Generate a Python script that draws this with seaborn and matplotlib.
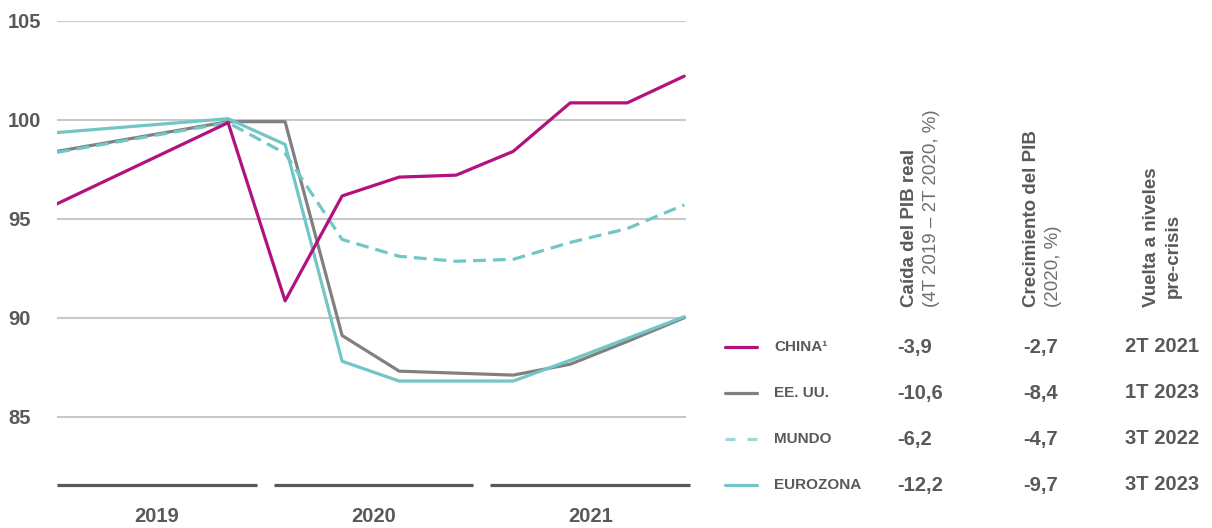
import numpy as np
import pandas as pd
import matplotlib
matplotlib.use('Agg')
import matplotlib.pyplot as plt
import matplotlib.transforms as mtransforms
import seaborn as sns

# ─────────────────────────────
#  DATA (índice, 4T 2019 = 100)
# ─────────────────────────────
quarters = ['1T 2019', '2T 2019', '3T 2019', '4T 2019',
            '1T 2020', '2T 2020', '3T 2020', '4T 2020',
            '1T 2021', '2T 2021', '3T 2021', '4T 2021']
nan = np.nan
china    = [95.75, nan, nan, 99.85, 90.85, 96.15, 97.1, 97.2, 98.4, 100.85, 100.85, 102.2]
eeuu     = [98.4,  nan, nan, 99.9,  99.9,  89.1,  87.3, 87.2, 87.1, 87.65,  88.8,   90.0]
mundo    = [98.35, nan, nan, 99.85, 98.3,  93.95, 93.1, 92.85, 92.95, 93.8,  94.5,   95.7]
eurozona = [99.35, nan, nan, 100.05, 98.75, 87.8, 86.8, 86.8, 86.8, 87.85,  88.95,  90.05]

years = ['2019', '2020', '2021']
yticks = [85, 90, 95, 100, 105]

# tabla de la derecha
series_names = ['CHINA¹', 'EE. UU.', 'MUNDO', 'EUROZONA']
caida  = ['-3,9', '-10,6', '-6,2', '-12,2']
crec   = ['-2,7', '-8,4', '-4,7', '-9,7']
vuelta = ['2T 2021', '1T 2023', '3T 2022', '3T 2023']

# ─────────────────────────────
#  STYLE
# ─────────────────────────────
sns.set_style('white')
plt.rcParams['font.family'] = ['Liberation Sans', 'DejaVu Sans']

TXT   = '#58595b'
TXT2  = '#6d6e71'
GRID  = '#c9c9c9'
colors = {'CHINA¹': '#b3127e', 'EE. UU.': '#808080',
          'MUNDO': '#72c6c6', 'EUROZONA': '#72c6c6'}
dashes = {'CHINA¹': '', 'EE. UU.': '', 'MUNDO': (4, 2.2), 'EUROZONA': ''}

df = pd.DataFrame({'q': quarters, 'idx': range(len(quarters)),
                   'CHINA¹': china, 'EE. UU.': eeuu,
                   'MUNDO': mundo, 'EUROZONA': eurozona})
long = df.melt(id_vars=['q', 'idx'], var_name='serie', value_name='valor').dropna()

W, H = 1212, 528
fig = plt.figure(figsize=(W / 100, H / 100), dpi=100)
ax = fig.add_axes([57 / W, (H - 485) / H, 629 / W, 464.3 / H])

sns.lineplot(data=long, x='idx', y='valor', hue='serie', style='serie',
             hue_order=['EE. UU.', 'MUNDO', 'EUROZONA', 'CHINA¹'],
             style_order=['EE. UU.', 'MUNDO', 'EUROZONA', 'CHINA¹'],
             palette=colors, dashes=dashes, linewidth=2.3,
             legend=False, ax=ax)

ymin = 81.55
ax.set_xlim(0, 11.03)
ax.set_ylim(ymin, 105)
ax.set_yticks(yticks)
ax.set_yticklabels([str(t) for t in yticks], fontweight='bold')
ax.set_xticks([])
ax.set_xlabel('')
ax.set_ylabel('')
ax.grid(axis='y', color=GRID, linewidth=1.5)
ax.set_axisbelow(True)
for s in ax.spines.values():
    s.set_visible(False)
ax.tick_params(axis='y', length=0, pad=35.3, labelsize=14.5, labelcolor=TXT)
for lab in ax.get_yticklabels():
    lab.set_horizontalalignment('left')

# barras de años
trans = mtransforms.blended_transform_factory(ax.transData, ax.transAxes)
for i, yr in enumerate(years):
    start = i * 3.8
    end = start + 3.5
    ax.plot([start, end], [ymin, ymin], color=TXT, lw=2.3,
            clip_on=False, solid_capstyle='butt')
    ax.text((start + end) / 2, -0.067, yr, transform=trans, ha='center',
            va='center', fontsize=14.5, fontweight='bold', color=TXT)

# ─────────────────────────────
#  TABLA / LEYENDA
# ─────────────────────────────
ov = fig.add_axes([0, 0, 1, 1])
ov.set_xlim(0, W)
ov.set_ylim(H, 0)
ov.axis('off')

row_y = [347, 393, 439, 485]
leg_dash = {'CHINA¹': (None, None), 'EE. UU.': (None, None),
            'MUNDO': (3.1, 3.8), 'EUROZONA': (None, None)}
for name, y, c1, c2, c3 in zip(series_names, row_y, caida, crec, vuelta):
    if name == 'MUNDO':
        ov.plot([725, 757], [y, y], color='#9bd8d8', lw=2.3,
                linestyle=(0, leg_dash[name]))
    else:
        ov.plot([725, 757], [y, y], color=colors[name], lw=2.3)
    ov.text(774, y, name, ha='left', va='center', fontsize=11,
            fontweight='bold', color=TXT)
    ov.text(897, y, c1, ha='left', va='center', fontsize=14.5,
            fontweight='bold', color=TXT)
    ov.text(1023, y, c2, ha='left', va='center', fontsize=14.5,
            fontweight='bold', color=TXT)
    ov.text(1125, y, c3, ha='left', va='center', fontsize=14.5,
            fontweight='bold', color=TXT)

headers = [
    (909, 307, 'Caída del PIB real', 'bold', TXT),
    (932, 307, '(4T 2019 – 2T 2020, %)', 'normal', TXT2),
    (1031, 307, 'Crecimiento del PIB', 'bold', TXT),
    (1054, 307, '(2020, %)', 'normal', TXT2),
    (1151, 307, 'Vuelta a niveles', 'bold', TXT),
    (1173, 298, 'pre-crisis', 'bold', TXT),
]
for x, y, txt, w, c in headers:
    ov.text(x, y, txt, rotation=90, ha='center', va='bottom',
            fontsize=13.5, fontweight=w, color=c)

plt.savefig('out.png', dpi=100, facecolor='white')
